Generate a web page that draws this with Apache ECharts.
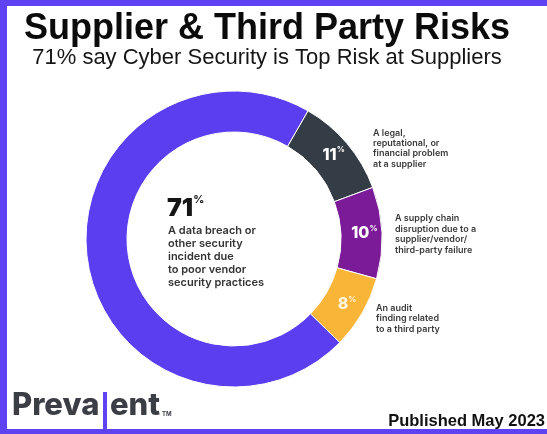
<!DOCTYPE html>
<html>
<head>
<meta charset="utf-8">
<script src="https://cdn.jsdelivr.net/npm/echarts@6/dist/echarts.min.js"></script>
<style>
  html, body { margin: 0; padding: 0; background: #fff; }
  #chart { width: 547px; height: 434px; }
</style>
</head>
<body>
<div id="chart"></div>
<script>
// risk categories (wrapped the way the source prints them) and their share in %
const categories = [
  ["A legal,", "reputational, or", "financial problem", "at a supplier"],
  ["A supply chain", "disruption due to a", "supplier/vendor/", "third-party failure"],
  ["An audit", "finding related", "to a third party"],
  ["A data breach or", "other security", "incident due", "to poor vendor", "security practices"]
];
const shares = [11, 10, 8, 71];
const sliceColors = ["#343c45", "#7b1b98", "#f8b538", "#5a3ef0"];
const labelColors = ["#fff", "#fff", "#fff4dc", "#fff"];

const chartDom = document.getElementById("chart");
const myChart = echarts.init(chartDom);

const CX = 234, CY = 239;
const purple = "#5f43f2";

// small helper for the plain text blocks
const txt = (x, y, text, s) => ({
  type: "text", x: x, y: y,
  style: Object.assign({ text: text, textAlign: "left", textVerticalAlign: "top" }, s),
});

let option = {
  backgroundColor: "#fff",
  animation: false,
  series: [
    {
      type: "pie",
      center: [CX, CY],
      radius: [107, 148],
      startAngle: 60,
      clockwise: true,
      silent: true,
      itemStyle: {
        borderColor: "#fff",
        borderWidth: 1,
      },
      label: {
        show: true,
        position: "inside",
        formatter: (p) => "{v|" + p.value + "}{p|%}",
        rich: {
          v: { fontFamily: "Inter", fontWeight: 800, fontSize: 16, lineHeight: 18 },
          p: { fontFamily: "Inter", fontWeight: 700, fontSize: 8, lineHeight: 10, verticalAlign: "top" },
        },
      },
      labelLine: { show: false },
      data: shares.map((v, i) => ({
        value: v,
        name: categories[i].join(" "),
        itemStyle: { color: sliceColors[i] },
        label: { show: i < 3, color: labelColors[i] },
      })),
    },
  ],
  graphic: [
    // frame
    { type: "rect", shape: { x: 0, y: 0, width: 547, height: 6 }, style: { fill: purple } },
    { type: "rect", shape: { x: 0, y: 0, width: 7, height: 434 }, style: { fill: purple } },
    { type: "rect", shape: { x: 0, y: 429, width: 547, height: 5 }, style: { fill: purple } },
    // headings
    {
      type: "text", x: 267, y: 29,
      style: { text: "Supplier & Third Party Risks", fontFamily: "Liberation Sans", fontWeight: "bold", fontSize: 36, fill: "#0b0b0b", textAlign: "center", textVerticalAlign: "middle" },
    },
    {
      type: "text", x: 267, y: 58,
      style: { text: "71% say Cyber Security is Top Risk at Suppliers", fontFamily: "Liberation Sans", fontSize: 22, fill: "#161616", textAlign: "center", textVerticalAlign: "middle" },
    },
    // centre callout
    txt(167, 194, "{n|" + shares[3] + "}{p|%}", {
      rich: {
        n: { fontFamily: "Inter", fontWeight: 900, fontSize: 25, lineHeight: 28, fill: "#151515" },
        p: { fontFamily: "Inter", fontWeight: 700, fontSize: 11, lineHeight: 12, verticalAlign: "top", fill: "#151515" },
      },
    }),
    txt(168, 224.5, categories[3].join("\n"), { fontFamily: "Inter", fontWeight: 600, fontSize: 11, lineHeight: 13, fill: "#333" }),
    // side descriptions
    txt(373, 128, categories[0].join("\n"), { fontFamily: "Inter", fontWeight: 600, fontSize: 9, lineHeight: 10.3, fill: "#3a3a3a" }),
    txt(395, 213, categories[1].join("\n"), { fontFamily: "Inter", fontWeight: 600, fontSize: 9, lineHeight: 10.6, fill: "#3a3a3a" }),
    txt(376, 303, categories[2].join("\n"), { fontFamily: "Inter", fontWeight: 600, fontSize: 9, lineHeight: 10.5, fill: "#3a3a3a" }),
    // logo
    txt(12, 390, "Preva", { fontFamily: "Inter", fontWeight: 800, fontSize: 31, lineHeight: 32, fill: "#3b3e44" }),
    { type: "rect", shape: { x: 103, y: 392, width: 4, height: 40 }, style: { fill: purple } },
    txt(110, 390, "ent", { fontFamily: "Inter", fontWeight: 800, fontSize: 31, lineHeight: 32, fill: "#3b3e44" }),
    txt(162, 411, "TM", { fontFamily: "Inter", fontWeight: 700, fontSize: 6, fill: "#3b3e44" }),
    {
      type: "text", x: 545, y: 421,
      style: { text: "Published May 2023", fontFamily: "Liberation Sans", fontWeight: "bold", fontSize: 16.5, fill: "#111", textAlign: "right", textVerticalAlign: "middle" },
    },
  ],
};

myChart.setOption(option);
</script>
</body>
</html>
